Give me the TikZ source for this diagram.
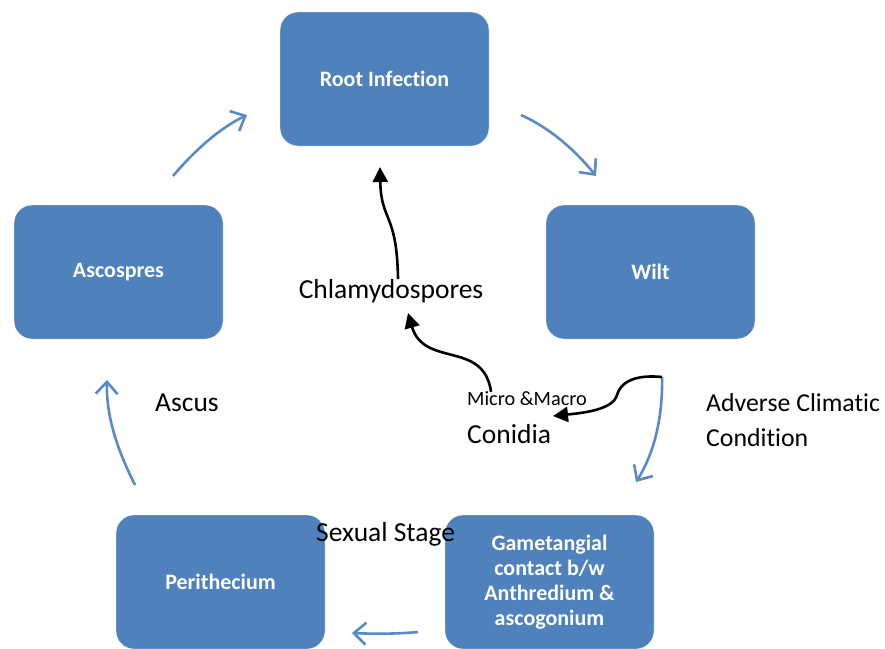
\documentclass[tikz,border=0pt]{standalone}
\usepackage{fontspec}
\setmainfont{Carlito}[Ligatures=NoCommon]
\usepackage{tikz}
\usetikzlibrary{arrows.meta, positioning}
\definecolor{boxblue}{HTML}{4F81BD}
\definecolor{flowblue}{HTML}{5A8AC6}

\begin{document}
\begin{tikzpicture}[
    x=1pt, y=-1pt,
    stage/.style={draw=white, fill=boxblue, thin, rounded corners=18pt,
        minimum width=209pt, minimum height=134pt, align=center, text=white,
        font=\fontsize{22}{25}\selectfont\bfseries, inner sep=0pt},
    flow/.style={-{Straight Barb[length=12pt, width=22pt]}, line width=2.6pt, color=flowblue},
    turn/.style={-{Triangle[length=15pt, width=15pt]}, line width=2.6pt, color=black},
    lab/.style={font=\fontsize{27.5}{35}\selectfont, align=left, inner sep=0pt},
    slab/.style={font=\fontsize{20.3}{24}\selectfont, inner sep=0pt}
]
\useasboundingbox (0,0) rectangle (885,648);

% =====================================================
% LIFE CYCLE STAGES
% =====================================================
\node[stage] (root)  at (384.5, 79)  {Root Infection};
\node[stage] (wilt)  at (650.5, 272) {Wilt};
\node[stage] (asco)  at (118.5, 272) {Ascospres};
\node[stage] (peri)  at (220.5, 582) {Perithecium};
\node[stage] (game)  at (549.5, 582) {Gametangial\\contact b/w\\Anthredium \&\\ascogonium};

% =====================================================
% LABELS
% =====================================================
\node[lab] (chlamy) at (391, 291) {Chlamydospores};
\node[slab, anchor=west] (micro) at (467, 399) {Micro \&Macro};
\node[lab, anchor=west] (conid) at (467, 434) {Conidia};
\node[lab, anchor=west, font=\fontsize{25.8}{33}\selectfont] (adv)  at (706, 403) {Adverse Climatic};
\node[lab, anchor=west, font=\fontsize{25.8}{33}\selectfont] (cond) at (706, 438) {Condition};
\node[lab, anchor=west] (ascus) at (155, 403) {Ascus};
\node[lab, anchor=west] (sex)   at (316, 534) {Sexual Stage};

% arrow ends round the cycle
\coordinate (a1) at (173,176);  \coordinate (a2) at (247,115);
\coordinate (b1) at (521,115);  \coordinate (b2) at (596,176);
\coordinate (c1) at (662,377);  \coordinate (c2) at (636,482);
\coordinate (d1) at (418,632);  \coordinate (d2) at (352,633);
\coordinate (e1) at (135,485);  \coordinate (e2) at (107,380);
\coordinate (k1) at (380,167);  \coordinate (k2) at (408,313);
\coordinate (k3) at (553,416);

% =====================================================
% CYCLE ARROWS (blue)
% =====================================================
\draw[flow] (a1) .. controls (195,150) and (220,128) .. (a2);
\draw[flow] (b1) .. controls (550,128) and (575,150) .. (b2);
\draw[flow] (c1) .. controls (663,420) and (653,455) .. (c2);
\draw[flow] (d1) .. controls (395,634) and (375,634) .. (d2);
\draw[flow] (e1) .. controls (120,455) and (106,420) .. (e2);

% =====================================================
% ASEXUAL ROUTE (black)
% =====================================================
\draw[turn] (chlamy.north -| 398,0) .. controls (397,212) and (381,222) .. (k1);
\draw[turn] (micro.north -| 491,0) .. controls (484,340) and (424,368) .. (k2);
\draw[turn] (c1) .. controls (632,374) and (620,384) .. (617,395)
    .. controls (613,410) and (582,413) .. (k3);

\end{tikzpicture}
\end{document}
